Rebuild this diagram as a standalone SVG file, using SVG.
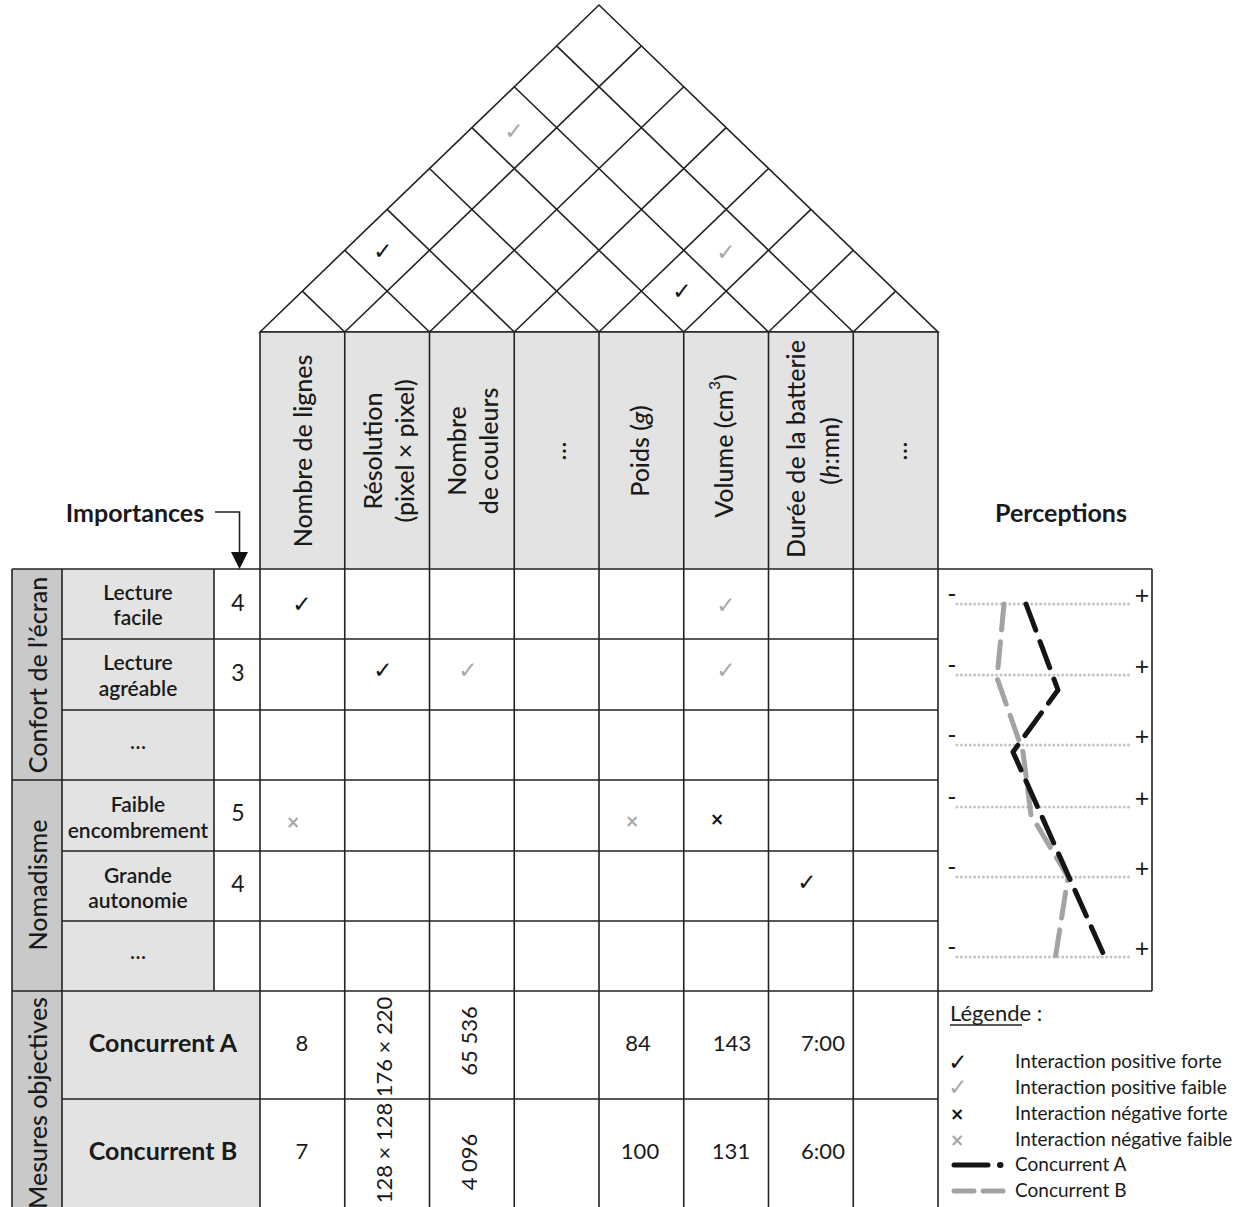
<svg xmlns="http://www.w3.org/2000/svg" width="1244" height="1207" viewBox="0 0 1244 1207">
  <style>
    text { font-family: Lato, "Open Sans", "DejaVu Sans", sans-serif; fill: #1a1a1a; }
    .grid { stroke: #222; stroke-width: 1.6; fill: none; }
    .hdr { fill: #e3e3e3; }
    .grp { fill: #c9c9c9; }
    .lbl { fill: #e3e3e3; }
    .th { font-size: 25px; font-weight: 500; text-anchor: middle; dominant-baseline: central; }
    .rl { font-size: 21px; font-weight: 600; text-anchor: middle; dominant-baseline: central; }
    .gl { font-size: 25px; font-weight: 500; text-anchor: middle; dominant-baseline: central; }
    .num { font-size: 22px; text-anchor: middle; dominant-baseline: central; }
    .imp { font-size: 23px; text-anchor: middle; dominant-baseline: central; }
    .big { font-size: 25px; font-weight: 700; text-anchor: middle; dominant-baseline: central; }
    .chk { font-family: "DejaVu Sans", sans-serif; font-size: 23px; text-anchor: middle; dominant-baseline: central; }
    .dark { fill: #111; }
    .light { fill: #a8a8a8; }
    .xs { font-family: "DejaVu Sans", sans-serif; font-size: 17px; font-weight: bold; text-anchor: middle; dominant-baseline: central; }
    .dots { stroke: #c4c4c4; stroke-width: 3; stroke-dasharray: 0 4.4; stroke-linecap: round; fill: none; }
    .pm { font-size: 25px; dominant-baseline: central; text-anchor: middle; }
    .ca { stroke: #151515; stroke-width: 5; stroke-dasharray: 28 12; stroke-linecap: round; stroke-linejoin: round; fill: none; }
    .cb { stroke: #a3a3a3; stroke-width: 5; stroke-dasharray: 26 12; stroke-linecap: round; stroke-linejoin: round; fill: none; }
    .leg { font-size: 19px; }
  </style>

  <!-- roof: correlation triangle -->
  <g id="roof" class="grid">
    <polygon points="260,332 599,5 938,332"/>
    <line x1="344.75" y1="332" x2="641.375" y2="45.88"/>
    <line x1="344.75" y1="332" x2="302.375" y2="291.13"/>
    <line x1="429.5" y1="332" x2="683.75" y2="86.75"/>
    <line x1="429.5" y1="332" x2="344.75" y2="250.25"/>
    <line x1="514.25" y1="332" x2="726.125" y2="127.62"/>
    <line x1="514.25" y1="332" x2="387.125" y2="209.37"/>
    <line x1="599" y1="332" x2="768.5" y2="168.5"/>
    <line x1="599" y1="332" x2="429.5" y2="168.5"/>
    <line x1="683.75" y1="332" x2="810.875" y2="209.37"/>
    <line x1="683.75" y1="332" x2="471.875" y2="127.62"/>
    <line x1="768.5" y1="332" x2="853.25" y2="250.25"/>
    <line x1="768.5" y1="332" x2="514.25" y2="86.75"/>
    <line x1="853.25" y1="332" x2="895.625" y2="291.13"/>
    <line x1="853.25" y1="332" x2="556.625" y2="45.88"/>
  </g>
  <g id="roof-marks">
    <text class="chk light" x="514" y="131">✓</text>
    <text class="chk dark" x="383" y="251">✓</text>
    <text class="chk light" x="726" y="252">✓</text>
    <text class="chk dark" x="682" y="291">✓</text>
  </g>

  <!-- cell fills -->
  <g id="fills">
    <rect class="hdr" x="260" y="332" width="678" height="237"/>
    <rect class="grp" x="12" y="569" width="50" height="640"/>
    <rect class="lbl" x="62" y="569" width="152" height="422"/>
    <rect class="lbl" x="62" y="991" width="198" height="218"/>
  </g>

  <!-- table grid -->
  <g id="grid" class="grid">
    <line x1="260" y1="332" x2="938" y2="332"/>
    <line x1="12" y1="569" x2="1152" y2="569"/>
    <line x1="62" y1="639" x2="938" y2="639"/>
    <line x1="62" y1="710" x2="938" y2="710"/>
    <line x1="12" y1="780" x2="938" y2="780"/>
    <line x1="62" y1="851" x2="938" y2="851"/>
    <line x1="62" y1="921" x2="938" y2="921"/>
    <line x1="12" y1="991" x2="1152" y2="991"/>
    <line x1="62" y1="1099" x2="938" y2="1099"/>
    <line x1="12" y1="569" x2="12" y2="1210"/>
    <line x1="62" y1="569" x2="62" y2="1210"/>
    <line x1="214" y1="569" x2="214" y2="991"/>
    <line x1="260" y1="332" x2="260" y2="1210"/>
    <line x1="344.75" y1="332" x2="344.75" y2="1210"/>
    <line x1="429.5" y1="332" x2="429.5" y2="1210"/>
    <line x1="514.25" y1="332" x2="514.25" y2="1210"/>
    <line x1="599" y1="332" x2="599" y2="1210"/>
    <line x1="683.75" y1="332" x2="683.75" y2="1210"/>
    <line x1="768.5" y1="332" x2="768.5" y2="1210"/>
    <line x1="853.25" y1="332" x2="853.25" y2="1210"/>
    <line x1="938" y1="332" x2="938" y2="1210"/>
    <line x1="1152" y1="569" x2="1152" y2="991"/>
  </g>

  <!-- column headers -->
  <g id="headers">
    <text class="th" transform="translate(302,451) rotate(-90)">Nombre de lignes</text>
    <text class="th" transform="translate(372,451) rotate(-90)">Résolution</text>
    <text class="th" transform="translate(404,451) rotate(-90)">(pixel × pixel)</text>
    <text class="th" transform="translate(456,451) rotate(-90)">Nombre</text>
    <text class="th" transform="translate(488,451) rotate(-90)">de couleurs</text>
    <text class="th" transform="translate(556,451) rotate(-90)">…</text>
    <text class="th" transform="translate(639,451) rotate(-90)">Poids (<tspan font-style="italic">g</tspan>)</text>
    <text class="th" transform="translate(723,446) rotate(-90)">Volume (cm<tspan font-size="15" dy="-9">3</tspan><tspan dy="9">)</tspan></text>
    <text class="th" transform="translate(795,449) rotate(-90)">Durée de la batterie</text>
    <text class="th" transform="translate(829,451) rotate(-90)">(<tspan font-style="italic">h</tspan>:mn)</text>
    <text class="th" transform="translate(897,451) rotate(-90)">…</text>
  </g>

  <!-- importance pointer -->
  <g id="importances">
    <text class="big" x="135" y="512">Importances</text>
    <polyline class="grid" points="215,512 239.5,512 239.5,553"/>
    <polygon points="231,552 248,552 239.5,569" fill="#111"/>
  </g>

  <g id="perceptions-title">
    <text class="big" x="1061" y="512">Perceptions</text>
  </g>

  <!-- group labels -->
  <g id="groups">
    <text class="gl" transform="translate(37,675) rotate(-90)">Confort de l’écran</text>
    <text class="gl" transform="translate(37,885) rotate(-90)">Nomadisme</text>
    <text class="gl" transform="translate(37,1103) rotate(-90)">Mesures objectives</text>
  </g>

  <!-- customer requirements with importance -->
  <g id="req-lecture-facile">
    <text class="rl" x="138" y="591">Lecture</text>
    <text class="rl" x="138" y="616">facile</text>
    <text class="imp" x="238" y="602">4</text>
  </g>
  <g id="req-lecture-agreable">
    <text class="rl" x="138" y="661">Lecture</text>
    <text class="rl" x="138" y="687">agréable</text>
    <text class="imp" x="238" y="672">3</text>
  </g>
  <g id="req-more-1">
    <text class="rl" x="138" y="740">…</text>
  </g>
  <g id="req-encombrement">
    <text class="rl" x="138" y="803">Faible</text>
    <text class="rl" x="138" y="829">encombrement</text>
    <text class="imp" x="238" y="812">5</text>
  </g>
  <g id="req-autonomie">
    <text class="rl" x="138" y="874">Grande</text>
    <text class="rl" x="138" y="899">autonomie</text>
    <text class="imp" x="238" y="883">4</text>
  </g>
  <g id="req-more-2">
    <text class="rl" x="138" y="950">…</text>
  </g>

  <!-- relationship marks -->
  <g id="relations">
    <text class="chk dark" x="302" y="604">✓</text>
    <text class="chk light" x="726" y="605">✓</text>
    <text class="chk dark" x="383" y="670">✓</text>
    <text class="chk light" x="468" y="670">✓</text>
    <text class="chk light" x="726" y="670">✓</text>
    <text class="xs light" x="293" y="822">×</text>
    <text class="xs light" x="632" y="821">×</text>
    <text class="xs dark" x="717" y="819">×</text>
    <text class="chk dark" x="807" y="882">✓</text>
  </g>

  <!-- perception chart -->
  <g id="perception-scale">
    <line class="dots" x1="957" y1="604" x2="1133" y2="604"/>
    <line class="dots" x1="957" y1="675" x2="1133" y2="675"/>
    <line class="dots" x1="957" y1="745" x2="1133" y2="745"/>
    <line class="dots" x1="957" y1="807" x2="1133" y2="807"/>
    <line class="dots" x1="957" y1="877" x2="1133" y2="877"/>
    <line class="dots" x1="957" y1="957" x2="1133" y2="957"/>
    <text class="pm" x="952" y="593">-</text><text class="pm" x="1142" y="594">+</text>
    <text class="pm" x="952" y="664">-</text><text class="pm" x="1142" y="665">+</text>
    <text class="pm" x="952" y="734">-</text><text class="pm" x="1142" y="735">+</text>
    <text class="pm" x="952" y="796">-</text><text class="pm" x="1142" y="797">+</text>
    <text class="pm" x="952" y="866">-</text><text class="pm" x="1142" y="867">+</text>
    <text class="pm" x="952" y="946">-</text><text class="pm" x="1142" y="947">+</text>
  </g>
  <g id="connectors">
    <polyline class="cb" points="1004,604 997,678 1023,752 1031,815 1068,877 1055,960"/>
    <polyline class="ca" points="1026,604 1058,690 1013,752 1103,953"/>
  </g>

  <!-- objective measures -->
  <g id="concurrent-a">
    <text class="big" x="163" y="1042">Concurrent A</text>
    <text class="num" x="302" y="1042">8</text>
    <text class="num" transform="translate(383,1047) rotate(-90)">176 × 220</text>
    <text class="num" transform="translate(468,1041) rotate(-90)">65 536</text>
    <text class="num" x="638" y="1042">84</text>
    <text class="num" x="732" y="1042">143</text>
    <text class="num" x="823" y="1042">7:00</text>
  </g>
  <g id="concurrent-b">
    <text class="big" x="163" y="1150">Concurrent B</text>
    <text class="num" x="302" y="1150">7</text>
    <text class="num" transform="translate(383,1153) rotate(-90)">128 × 128</text>
    <text class="num" transform="translate(468,1162) rotate(-90)">4 096</text>
    <text class="num" x="640" y="1150">100</text>
    <text class="num" x="731" y="1150">131</text>
    <text class="num" x="823" y="1150">6:00</text>
  </g>

  <!-- legend -->
  <g id="legend">
    <text x="950" y="1021" font-size="22">Légende :</text>
    <line x1="950" y1="1025" x2="1022" y2="1025" stroke="#222" stroke-width="1.3"/>
    <text class="chk dark" x="958" y="1062">✓</text>
    <text class="chk light" x="958" y="1087">✓</text>
    <text class="xs dark" x="957" y="1114">×</text>
    <text class="xs light" x="957" y="1140">×</text>
    <line x1="954" y1="1165" x2="988" y2="1165" stroke="#151515" stroke-width="5" stroke-linecap="round"/>
    <line x1="1000" y1="1165" x2="1000.5" y2="1165" stroke="#151515" stroke-width="6" stroke-linecap="round"/>
    <line x1="954" y1="1191" x2="974" y2="1191" stroke="#a3a3a3" stroke-width="5" stroke-linecap="round"/>
    <line x1="983" y1="1191" x2="1003" y2="1191" stroke="#a3a3a3" stroke-width="5" stroke-linecap="round"/>
    <text class="leg" x="1015" y="1068">Interaction positive forte</text>
    <text class="leg" x="1015" y="1094">Interaction positive faible</text>
    <text class="leg" x="1015" y="1120">Interaction négative forte</text>
    <text class="leg" x="1015" y="1146">Interaction négative faible</text>
    <text class="leg" x="1015" y="1171">Concurrent A</text>
    <text class="leg" x="1015" y="1197">Concurrent B</text>
  </g>
</svg>
